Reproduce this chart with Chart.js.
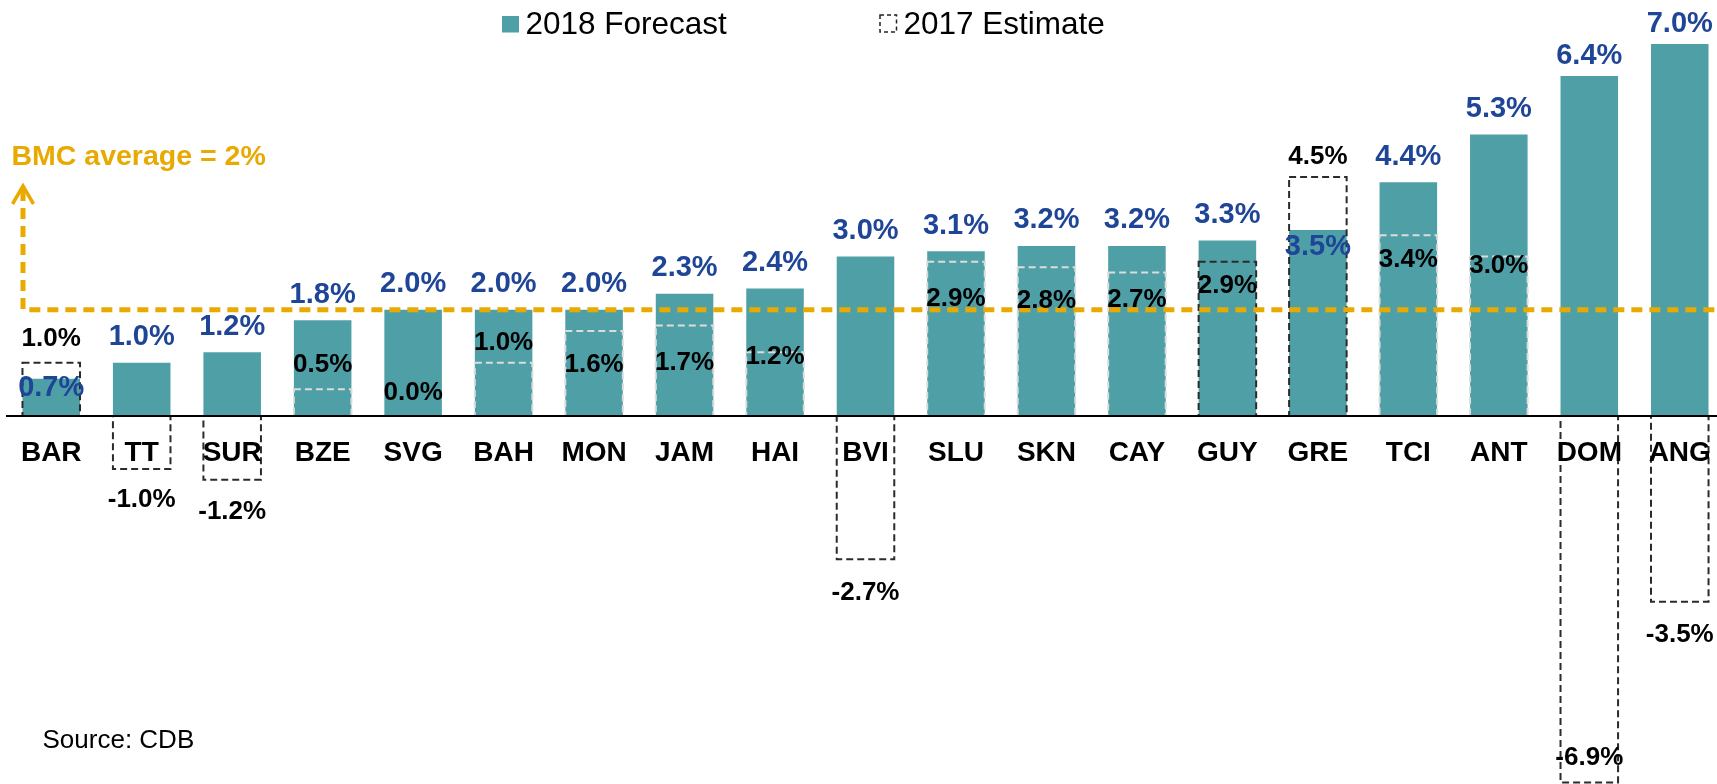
<!DOCTYPE html>
<html>
<head>
<meta charset="utf-8">
<title>2018 growth forecast vs 2017 estimate</title>
<script src="https://cdn.jsdelivr.net/npm/chart.js@4.4.1/dist/chart.umd.min.js"></script>
<style>
    html, body { margin: 0; padding: 0; background: #fff; overflow: hidden; }
    #wrap { position: relative; width: 1725px; height: 784px; }
</style>
</head>
<body>
<div id="wrap"><canvas id="growthChart" width="1725" height="784"></canvas></div>
<script>
// Data (real GDP growth, %)
const countries = ['BAR', 'TT', 'SUR', 'BZE', 'SVG', 'BAH', 'MON', 'JAM', 'HAI', 'BVI',
    'SLU', 'SKN', 'CAY', 'GUY', 'GRE', 'TCI', 'ANT', 'DOM', 'ANG'];
const forecast2018 = [0.7, 1.0, 1.2, 1.8, 2.0, 2.0, 2.0, 2.3, 2.4, 3.0,
    3.1, 3.2, 3.2, 3.3, 3.5, 4.4, 5.3, 6.4, 7.0];
const estimate2017 = [1.0, -1.0, -1.2, 0.5, 0.0, 1.0, 1.6, 1.7, 1.2, -2.7,
    2.9, 2.8, 2.7, 2.9, 4.5, 3.4, 3.0, -6.9, -3.5];
const seriesNames = ['2018 Forecast', '2017 Estimate'];
const bmcAverage = 2;
const averageNote = 'BMC average = 2%';
const sourceNote = 'Source: CDB';

// Visible value range of the plot
const yMin = -6.93;
const yMax = 7.83;

// Styles
const TEAL = '#4ea0a6';
const BLUE = '#1f4597';
const ORANGE = '#e8aa00';
const FONT = '"Liberation Sans", Arial, sans-serif';

// Outline of each 2017 box: dark where it stands out, light where it sits inside the bar
const estimateOutline = ['#2b2b2b', '#2b2b2b', '#2b2b2b', '#dcdcdc', '#dcdcdc', '#dcdcdc', '#dcdcdc',
    '#dcdcdc', '#dcdcdc', '#2b2b2b', '#dcdcdc', '#dcdcdc', '#dcdcdc', '#2b2b2b', '#2b2b2b',
    '#dcdcdc', '#dcdcdc', '#2b2b2b', '#2b2b2b'];

// Hand placed value labels: px from the value end of the bar to the label centre
const forecastLabelDy = [7, -28, -28, -28, -28, -28, -28, -28, -28, -28,
    -28, -28, -28, -28, 15, -28, -28, -22, -22];
const estimateLabelDy = [-26, 29, 30, -27, -25, -22, 32, 35, 3, 31,
    35, 32, 25, 22, -22, 22, 7, -27, 31];

const pct = v => v.toFixed(1) + '%';

// Text helper: y is the visual centre of the digits / capitals
function drawText(ctx, text, x, y, size, weight, color, align) {
    ctx.save();
    ctx.font = `${weight} ${size}px ${FONT}`;
    ctx.fillStyle = color;
    ctx.textAlign = align || 'center';
    ctx.textBaseline = 'alphabetic';
    ctx.fillText(text, x, y + size * 0.358);
    ctx.restore();
}

// Everything Chart.js does not draw itself
const overlayPlugin = {
    id: 'overlay',
    afterDatasetsDraw(chart) {
        const ctx = chart.ctx;
        const area = chart.chartArea;
        const yScale = chart.scales.y;
        const zeroY = yScale.getPixelForValue(0);
        const barMeta = chart.getDatasetMeta(0);
        const boxMeta = chart.getDatasetMeta(1);

        // 2017 estimate boxes, dashed
        boxMeta.data.forEach((el, i) => {
            const { x, y, base, width } = el.getProps(['x', 'y', 'base', 'width'], true);
            const top = Math.min(y, base);
            const h = Math.abs(base - y);
            if (h < 1) return;
            ctx.save();
            ctx.strokeStyle = estimateOutline[i];
            ctx.lineWidth = 2;
            ctx.setLineDash([7, 4]);
            ctx.strokeRect(x - width / 2, top, width, h);
            ctx.restore();
        });

        // zero line
        ctx.save();
        ctx.strokeStyle = '#000';
        ctx.lineWidth = 2;
        ctx.beginPath();
        ctx.moveTo(area.left, zeroY);
        ctx.lineTo(chart.width, zeroY);
        ctx.stroke();
        ctx.restore();

        // BMC average line with the arrow up to its note
        const avgY = yScale.getPixelForValue(bmcAverage);
        const ax = area.left + 17;
        ctx.save();
        ctx.strokeStyle = ORANGE;
        ctx.lineWidth = 5;
        ctx.setLineDash([11, 7]);
        ctx.beginPath();
        ctx.moveTo(ax, 190);
        ctx.lineTo(ax, avgY);
        ctx.lineTo(chart.width, avgY);
        ctx.stroke();
        ctx.setLineDash([]);
        ctx.lineWidth = 3.5;
        ctx.beginPath();
        ctx.moveTo(ax - 10.5, 204);
        ctx.lineTo(ax, 186);
        ctx.lineTo(ax + 10.5, 204);
        ctx.stroke();
        ctx.restore();
        drawText(ctx, averageNote, 11.5, 155, 28.5, 'bold', ORANGE, 'left');

        // value labels
        boxMeta.data.forEach((el, i) => {
            drawText(ctx, pct(estimate2017[i]), el.x, el.y + estimateLabelDy[i], 26, 'bold', '#000');
        });
        barMeta.data.forEach((el, i) => {
            drawText(ctx, pct(forecast2018[i]), el.x, el.y + forecastLabelDy[i], 29, 'bold', BLUE);
        });

        // category names just under the zero line
        chart.scales.x.ticks.forEach((t, i) => {
            const x = chart.scales.x.getPixelForTick(i);
            drawText(ctx, countries[i], x, zeroY + 35, 28, 'bold', '#000');
        });

        // legend
        ctx.save();
        ctx.fillStyle = TEAL;
        ctx.fillRect(502, 16, 17, 16.5);
        ctx.strokeStyle = '#222';
        ctx.lineWidth = 1.5;
        ctx.setLineDash([4, 3]);
        ctx.strokeRect(880, 15, 16.5, 17);
        ctx.restore();
        drawText(ctx, seriesNames[0], 525.5, 23, 31.5, 'normal', '#000', 'left');
        drawText(ctx, seriesNames[1], 903.5, 23, 31.5, 'normal', '#000', 'left');

        // source
        drawText(ctx, sourceNote, 42.5, 738.5, 26, 'normal', '#000', 'left');
    }
};

const chart = new Chart(document.getElementById('growthChart'), {
    type: 'bar',
    data: {
        labels: countries,
        datasets: [
            {
                label: seriesNames[0],
                data: forecast2018,
                backgroundColor: TEAL,
                borderWidth: 0,
                grouped: false,
                barPercentage: 0.636,
                categoryPercentage: 1
            },
            {
                label: seriesNames[1],
                data: estimate2017,
                backgroundColor: 'rgba(0,0,0,0)',
                borderWidth: 0,
                grouped: false,
                barPercentage: 0.636,
                categoryPercentage: 1
            }
        ]
    },
    options: {
        responsive: false,
        animation: false,
        devicePixelRatio: 1,
        layout: { padding: { left: 6, right: 0, top: 0, bottom: 0 } },
        plugins: {
            legend: { display: false },
            tooltip: { enabled: false }
        },
        scales: {
            x: { display: false, offset: true },
            y: { display: false, min: yMin, max: yMax }
        }
    },
    plugins: [overlayPlugin]
});
</script>
</body>
</html>
